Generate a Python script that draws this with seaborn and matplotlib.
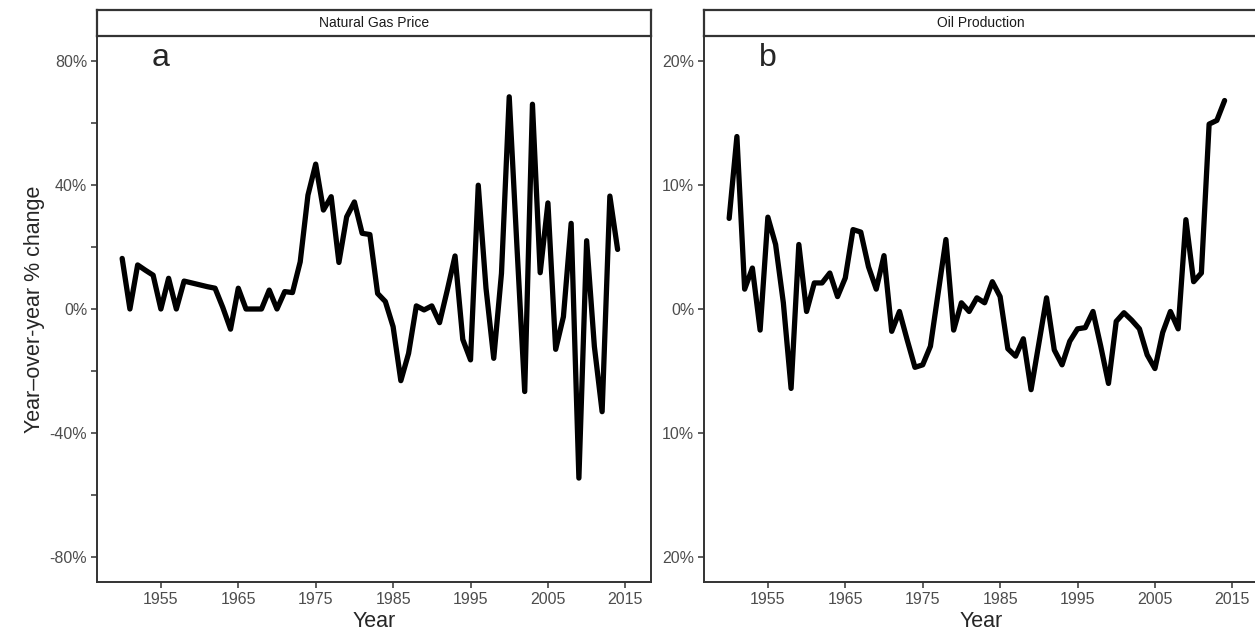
import numpy as np
import pandas as pd
import matplotlib
matplotlib.use("Agg")
import matplotlib.pyplot as plt
import seaborn as sns

years = list(range(1950, 2015))

gas_price_pct = [16.3, 0.0, 14.2, 12.5, 10.9, 0.0, 9.9, 0.0, 9.0, 8.4,
                 7.8, 7.2, 6.7, 0.5, -6.5, 6.7, 0.0, 0.0, 0.0, 6.1,
                 0.0, 5.6, 5.3, 15.2, 36.7, 46.7, 31.9, 36.2, 15.0, 29.7,
                 34.5, 24.4, 24.0, 5.0, 2.4, -5.7, -23.1, -14.3, 1.0, -0.3,
                 1.0, -4.4, 6.1, 17.1, -9.8, -16.4, 39.9, 6.7, -15.9, 11.5,
                 68.4, 20.0, -26.6, 66.0, 11.7, 34.2, -13.0, -2.5, 27.6, -54.5,
                 22.0, -12.1, -33.1, 36.4, 19.2]

oil_prod_pct = [7.3, 13.9, 1.6, 3.3, -1.7, 7.4, 5.2, 0.5, -6.4, 5.2,
                -0.2, 2.1, 2.1, 2.9, 1.0, 2.5, 6.4, 6.2, 3.4, 1.6,
                4.3, -1.8, -0.2, -2.5, -4.7, -4.5, -3.0, 1.3, 5.6, -1.7,
                0.5, -0.2, 0.9, 0.5, 2.2, 1.0, -3.2, -3.8, -2.4, -6.5,
                -2.8, 0.9, -3.3, -4.5, -2.6, -1.6, -1.5, -0.2, -3.0, -6.0,
                -1.0, -0.3, -0.9, -1.6, -3.7, -4.8, -1.9, -0.2, -1.6, 7.2,
                2.2, 2.9, 14.9, 15.2, 16.8]

panel_titles = ["Natural Gas Price", "Oil Production"]
panel_letters = ["a", "b"]
x_ticks = [1955, 1965, 1975, 1985, 1995, 2005, 2015]
gas_ticks = [80, 40, 0, -40, -80]
gas_tick_labels = ["80%", "40%", "0%", "-40%", "-80%"]
gas_minor_ticks = [60, 20, -20, -60]
oil_ticks = [20, 10, 0, -10, -20]
oil_tick_labels = ["20%", "10%", "0%", "10%", "20%"]

df = pd.DataFrame({"Year": years, "gas": gas_price_pct, "oil": oil_prod_pct})

sns.set_style("white")
plt.rcParams["font.family"] = ["Liberation Sans", "DejaVu Sans"]

W, H = 1255, 634
fig = plt.figure(figsize=(W / 100, H / 100), dpi=100)

def fx(px):
    return px / W

def fy(py):
    return 1 - py / H

axis_color = "#333333"
tick_color = "#4D4D4D"

panels = [
    dict(left=97, col="gas", ylim=(-88, 88), yt=gas_ticks, ytl=gas_tick_labels, minor=gas_minor_ticks),
    dict(left=704, col="oil", ylim=(-22, 22), yt=oil_ticks, ytl=oil_tick_labels, minor=[]),
]
pw = 553.5
top, bottom = 36, 582
strip_top = 10

for i, p in enumerate(panels):
    ax = fig.add_axes([fx(p["left"]), fy(bottom), pw / W, (bottom - top) / H])
    sns.lineplot(data=df, x="Year", y=p["col"], ax=ax, color="black", linewidth=3.8)
    ax.set_xlim(1946.75, 2018.25)
    ax.set_ylim(*p["ylim"])
    ax.set_xticks(x_ticks)
    ax.set_xticklabels([str(t) for t in x_ticks])
    ax.set_yticks(p["yt"])
    ax.set_yticklabels(p["ytl"])
    if p["minor"]:
        ax.set_yticks(p["minor"], minor=True)
    ax.tick_params(axis="both", which="both", direction="out", length=4, width=1.1,
                   color=axis_color, labelcolor=tick_color, labelsize=11.5,
                   left=True, bottom=True, pad=3)
    for s in ["left", "bottom", "right", "top"]:
        ax.spines[s].set_visible(True)
        ax.spines[s].set_color(axis_color)
        ax.spines[s].set_linewidth(1.4)
    ax.set_xlabel("Year", fontsize=15.5, labelpad=3)
    if i == 0:
        ax.set_ylabel("Year\u2013over-year % change", fontsize=15.5, labelpad=3)
    else:
        ax.set_ylabel("")
    ax.text(1955, p["ylim"][1] * 0.92, panel_letters[i], fontsize=23, ha="center", va="center")

    sax = fig.add_axes([fx(p["left"]), fy(top), pw / W, (top - strip_top) / H])
    sax.set_xticks([])
    sax.set_yticks([])
    for s in sax.spines.values():
        s.set_color(axis_color)
        s.set_linewidth(1.6)
    sax.set_facecolor("white")
    sax.text(0.5, 0.5, panel_titles[i], ha="center", va="center", fontsize=10, color="#1A1A1A",
             transform=sax.transAxes)

fig.savefig("out.png", dpi=100)
